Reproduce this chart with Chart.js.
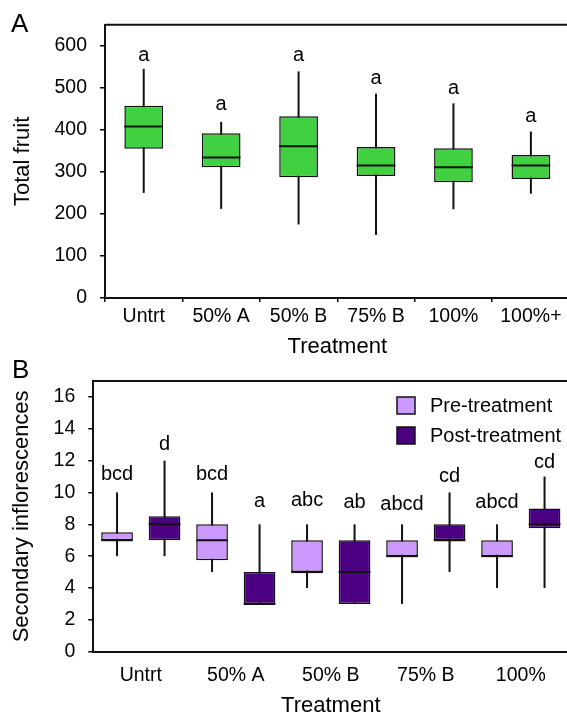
<!DOCTYPE html>
<html>
<head>
<meta charset="utf-8">
<script src="https://cdn.jsdelivr.net/npm/chart.js@4.4.1/dist/chart.umd.min.js"></script>
<style>
  html, body { margin: 0; padding: 0; background: #fff; overflow: hidden; }
  body { width: 567px; height: 719px; position: relative; }
  canvas { position: absolute; left: 0; }
  #chartA { top: 0; }
  #chartB { top: 355px; }
</style>
</head>
<body>
<canvas id="chartA" width="580" height="360"></canvas>
<canvas id="chartB" width="580" height="364"></canvas>
<script>
// Panel A: total fruit per treatment
const treatmentsA = ["Untrt", "50% A", "50% B", "75% B", "100%", "100%+"];
const fruitMin = [250, 212, 175, 150, 211, 248];
const fruitQ1 = [355, 311, 287, 290, 275, 283];
const fruitMedian = [408, 334, 361, 315, 311, 315];
const fruitQ3 = [457, 392, 432, 359, 356, 340];
const fruitMax = [545, 419, 539, 486, 463, 396];
const fruitLetters = ["a", "a", "a", "a", "a", "a"];
const fruitLetterY = [563, 447, 563, 508, 484, 418];
const yTicksA = [0, 100, 200, 300, 400, 500, 600];

// Panel B: secondary inflorescences, pre / post treatment
const treatmentsB = ["Untrt", "50% A", "50% B", "75% B", "100%"];
const preMin = [6, 5, 4, 3, 4];
const preQ1 = [7, 5.75, 5, 6, 6];
const preMedian = [7, 7, 5, 6, 6];
const preQ3 = [7.5, 8, 7, 7, 7];
const preMax = [10, 10, 8, 8, 8];
const preLetters = ["bcd", "bcd", "abc", "abcd", "abcd"];
const preLetterY = [10.8, 10.8, 9.13, 8.9, 9.04];

const postMin = [6, 3, 3, 5, 4];
const postQ1 = [7, 3, 3, 7, 7.75];
const postMedian = [8, 3, 5, 7, 8];
const postQ3 = [8.5, 5, 7, 8, 9];
const postMax = [12, 8, 8, 10, 11];
const postLetters = ["d", "a", "ab", "cd", "cd"];
const postLetterY = [12.65, 9.06, 9.04, 10.67, 11.55];
const yTicksB = [0, 2, 4, 6, 8, 10, 12, 14, 16];

const FONT = 'Arial, "Liberation Sans", sans-serif';
const INK = "#111";

// whiskers behind the boxes, medians + letters on top
const boxPlotPlugin = {
  id: "boxPlot",
  beforeDatasetsDraw(chart) {
    const ctx = chart.ctx;
    const y = chart.scales.y;
    chart.data.datasets.forEach((ds, d) => {
      chart.getDatasetMeta(d).data.forEach((bar, i) => {
        ctx.save();
        ctx.strokeStyle = INK;
        ctx.lineWidth = 2;
        ctx.beginPath();
        ctx.moveTo(bar.x, y.getPixelForValue(ds.whiskerLow[i]));
        ctx.lineTo(bar.x, y.getPixelForValue(ds.whiskerHigh[i]));
        ctx.stroke();
        ctx.restore();
      });
    });
  },
  afterDatasetsDraw(chart) {
    const ctx = chart.ctx;
    const y = chart.scales.y;
    chart.data.datasets.forEach((ds, d) => {
      chart.getDatasetMeta(d).data.forEach((bar, i) => {
        const m = y.getPixelForValue(ds.medians[i]);
        ctx.save();
        ctx.strokeStyle = INK;
        ctx.lineWidth = 2;
        ctx.beginPath();
        ctx.moveTo(bar.x - bar.width / 2, m);
        ctx.lineTo(bar.x + bar.width / 2, m);
        ctx.stroke();
        ctx.fillStyle = "#000";
        ctx.font = "20px " + FONT;
        ctx.textAlign = "center";
        ctx.textBaseline = "alphabetic";
        ctx.fillText(ds.letters[i], bar.x, y.getPixelForValue(ds.letterY[i]));
        ctx.restore();
      });
    });
  }
};

// top + right frame lines and the panel letter
const framePlugin = {
  id: "frame",
  afterDraw(chart, args, opts) {
    const ctx = chart.ctx;
    const a = chart.chartArea;
    ctx.save();
    ctx.strokeStyle = INK;
    ctx.lineWidth = 2;
    ctx.beginPath();
    ctx.moveTo(a.left, a.top);
    ctx.lineTo(a.right, a.top);
    ctx.lineTo(a.right, a.bottom);
    ctx.stroke();
    ctx.fillStyle = "#000";
    ctx.font = "26px " + FONT;
    ctx.textAlign = "left";
    ctx.fillText(opts.letter, opts.x, opts.y);
    ctx.restore();
  }
};

// legend drawn inside the plot area of panel B
const boxLegendPlugin = {
  id: "boxLegend",
  afterDraw(chart, args, opts) {
    if (!opts.show) return;
    const ctx = chart.ctx;
    chart.data.datasets.forEach((ds, d) => {
      const top = opts.y + d * 30;
      ctx.save();
      ctx.fillStyle = ds.backgroundColor;
      ctx.fillRect(opts.x, top, 18, 17);
      ctx.strokeStyle = INK;
      ctx.lineWidth = 1.5;
      ctx.strokeRect(opts.x, top, 18, 17);
      ctx.fillStyle = "#000";
      ctx.font = "20px " + FONT;
      ctx.textBaseline = "middle";
      ctx.fillText(ds.label, opts.x + 33, top + 9);
      ctx.restore();
    });
  }
};

const axisCommon = (size) => ({
  color: "#000",
  font: { family: FONT, size: size }
});

new Chart(document.getElementById("chartA"), {
  type: "bar",
  data: {
    labels: treatmentsA,
    datasets: [
      {
        label: "Total fruit",
        data: fruitQ1.map((q, i) => [q, fruitQ3[i]]),
        backgroundColor: "#40d040",
        borderColor: INK,
        borderWidth: 1.5,
        borderSkipped: false,
        categoryPercentage: 1,
        barPercentage: 0.5,
        whiskerLow: fruitMin,
        whiskerHigh: fruitMax,
        medians: fruitMedian,
        letters: fruitLetters,
        letterY: fruitLetterY
      }
    ]
  },
  options: {
    responsive: false,
    animation: false,
    devicePixelRatio: 1,
    layout: { padding: { top: 22, right: 10.4, left: 0, bottom: 0 } },
    plugins: {
      legend: { display: false },
      tooltip: { enabled: false },
      frame: { letter: "A", x: 11, y: 32 }
    },
    scales: {
      x: {
        grid: { drawOnChartArea: false, drawTicks: true, tickLength: 4, color: "#000", lineWidth: 1.5, offset: true },
        border: { display: true, color: INK, width: 2 },
        ticks: { ...axisCommon(19.5), padding: 3, maxRotation: 0, autoSkip: false },
        title: { display: true, text: "Treatment", ...axisCommon(22), padding: 0 },
        afterFit: (s) => { s.height = 62; }
      },
      y: {
        min: 0,
        max: 650,
        afterBuildTicks: (s) => { s.ticks = yTicksA.map((v) => ({ value: v })); },
        grid: { drawOnChartArea: false, tickLength: 5, color: "#000", lineWidth: 1.5 },
        border: { display: true, color: INK, width: 2 },
        ticks: { ...axisCommon(19.5), padding: 13 },
        title: { display: true, text: "Total fruit", ...axisCommon(22), padding: { top: 10 } },
        afterFit: (s) => { s.width = 105; }
      }
    }
  },
  plugins: [boxPlotPlugin, framePlugin]
});

new Chart(document.getElementById("chartB"), {
  type: "bar",
  data: {
    labels: treatmentsB,
    datasets: [
      {
        label: "Pre-treatment",
        data: preQ1.map((q, i) => [q, preQ3[i]]),
        backgroundColor: "#cc99ff",
        borderColor: INK,
        borderWidth: 1.5,
        borderSkipped: false,
        categoryPercentage: 1,
        barPercentage: 0.667,
        whiskerLow: preMin,
        whiskerHigh: preMax,
        medians: preMedian,
        letters: preLetters,
        letterY: preLetterY
      },
      {
        label: "Post-treatment",
        data: postQ1.map((q, i) => [q, postQ3[i]]),
        backgroundColor: "#4b0082",
        borderColor: INK,
        borderWidth: 1.5,
        borderSkipped: false,
        categoryPercentage: 1,
        barPercentage: 0.667,
        whiskerLow: postMin,
        whiskerHigh: postMax,
        medians: postMedian,
        letters: postLetters,
        letterY: postLetterY
      }
    ]
  },
  options: {
    responsive: false,
    animation: false,
    devicePixelRatio: 1,
    layout: { padding: { top: 26, right: 11.7, left: 0, bottom: 0 } },
    plugins: {
      legend: { display: false },
      tooltip: { enabled: false },
      frame: { letter: "B", x: 12, y: 23 },
      boxLegend: { show: true, x: 397, y: 42 }
    },
    scales: {
      x: {
        grid: { drawOnChartArea: false, drawTicks: false, color: "#000", offset: true },
        border: { display: true, color: INK, width: 2 },
        ticks: { ...axisCommon(19.5), padding: 12, maxRotation: 0, autoSkip: false },
        title: { display: true, text: "Treatment", ...axisCommon(22), padding: 0 },
        afterFit: (s) => { s.height = 67.3; }
      },
      y: {
        min: 0,
        max: 17,
        afterBuildTicks: (s) => { s.ticks = yTicksB.map((v) => ({ value: v })); },
        grid: { drawOnChartArea: false, tickLength: 5, color: "#000", lineWidth: 1.5 },
        border: { display: true, color: INK, width: 2 },
        ticks: { ...axisCommon(19.5), padding: 13 },
        title: { display: true, text: "Secondary inflorescences", ...axisCommon(22), padding: { top: 9 } },
        afterFit: (s) => { s.width = 93.3; }
      }
    }
  },
  plugins: [boxPlotPlugin, framePlugin, boxLegendPlugin]
});
</script>
</body>
</html>
